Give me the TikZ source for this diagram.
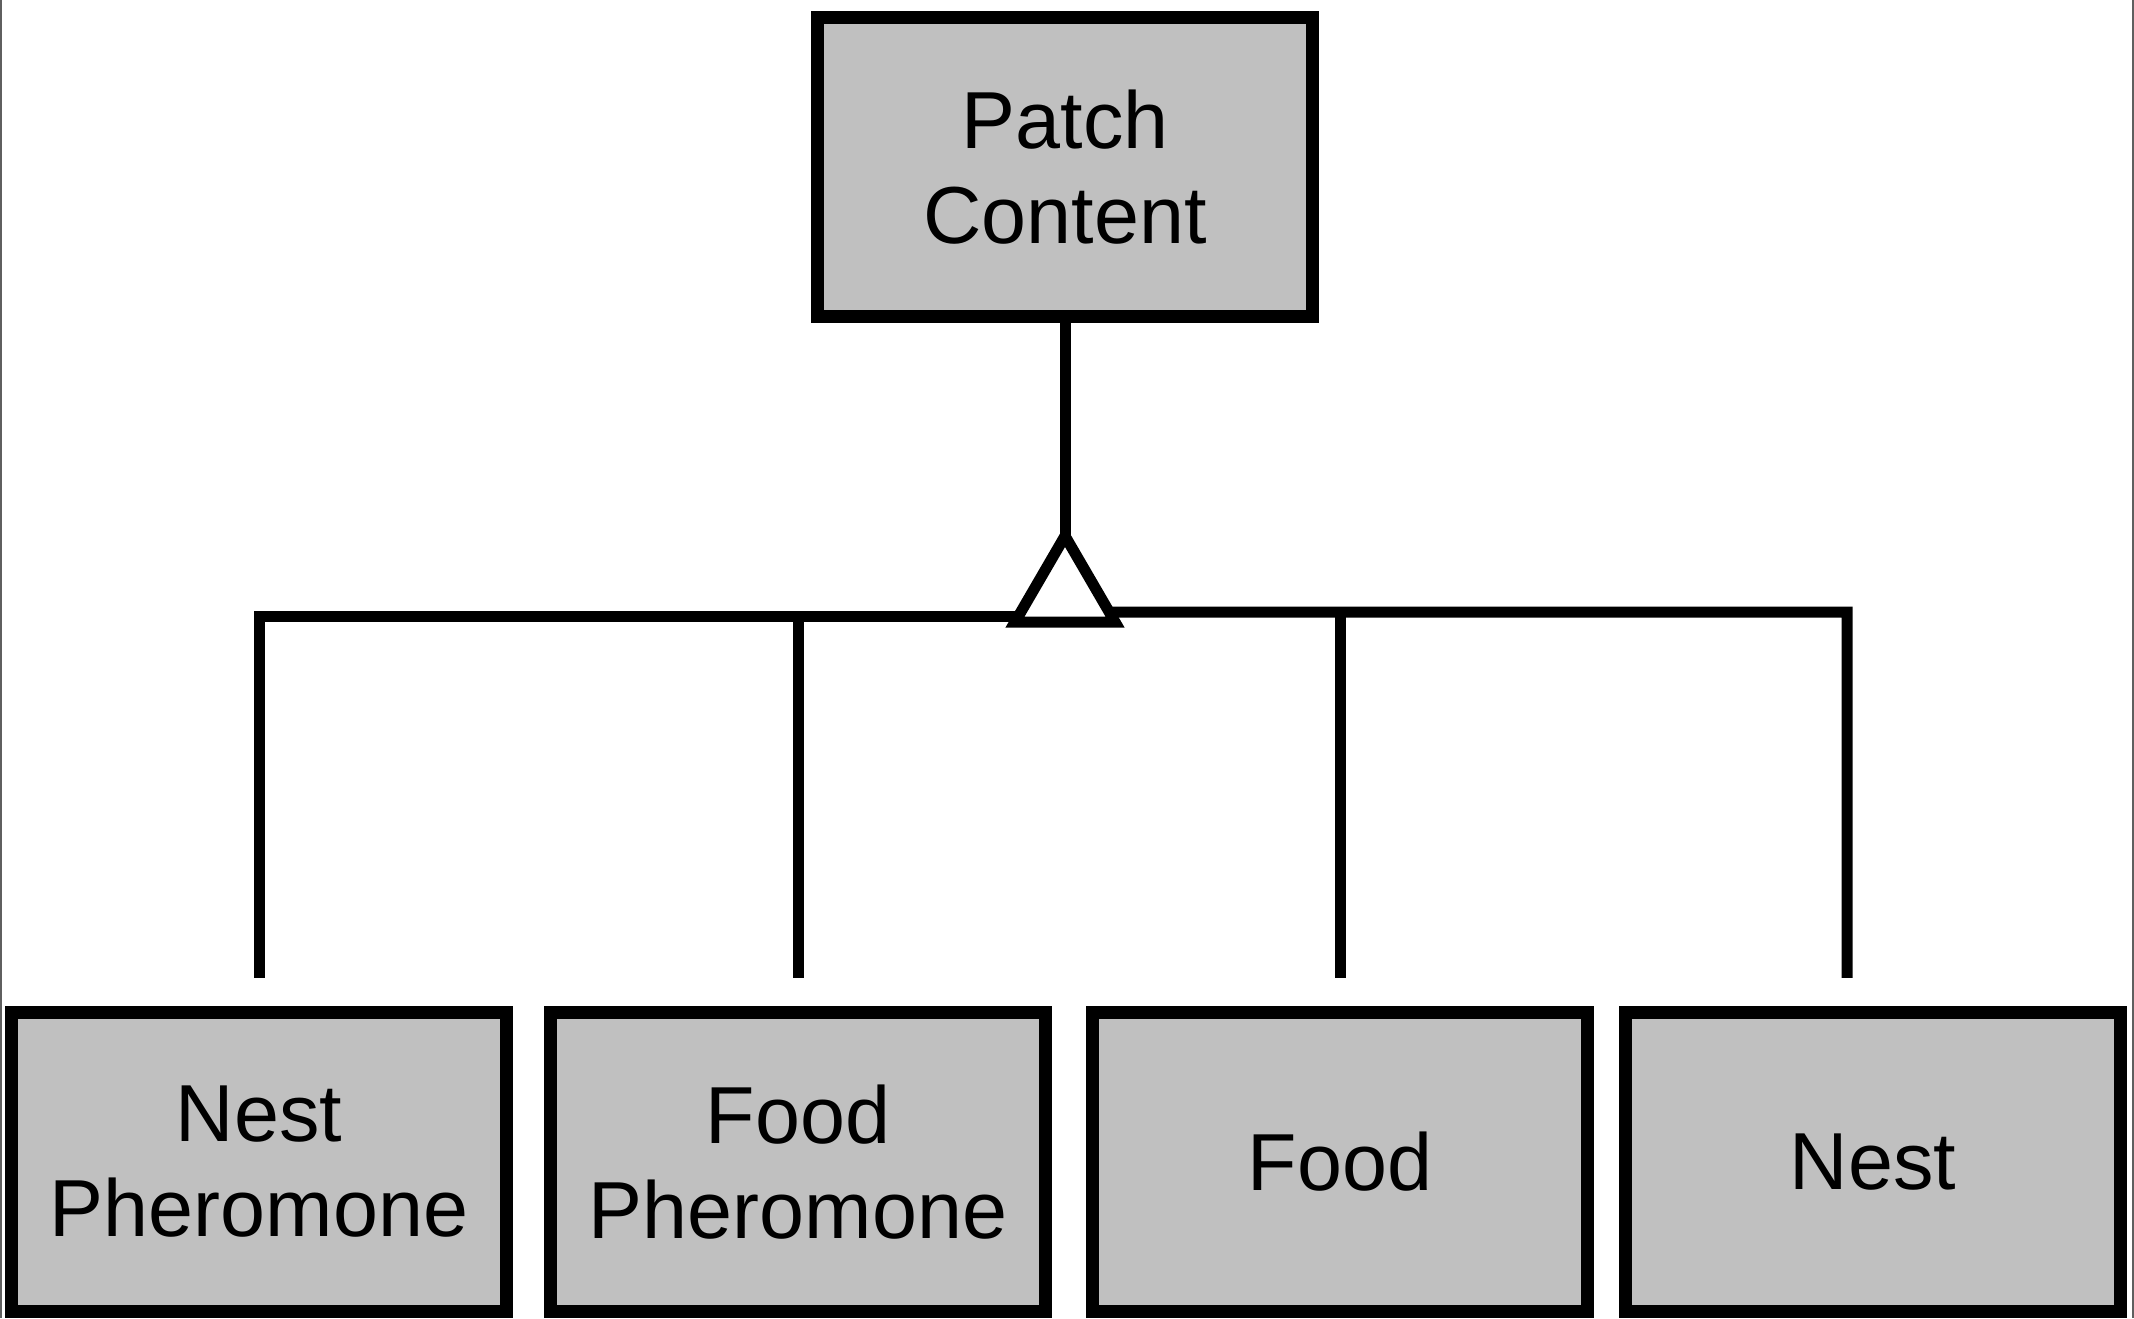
\documentclass[tikz,border=0pt]{standalone}
\usepackage{fontspec}
\setmainfont{Liberation Sans}
\usepackage{tikz}
\usepackage{xcolor}

\definecolor{boxgray}{RGB}{192,192,192}
\definecolor{framegray}{RGB}{95,95,95}

\tikzset{
  classbox/.style={draw, line width=0.13cm, fill=boxgray, minimum width=4.95cm,
    minimum height=2.99cm, align=center, inner sep=0pt,
    font=\fontsize{23}{27}\selectfont},
  link/.style={line width=0.11cm, line join=miter}
}

\begin{document}
\begin{tikzpicture}[x=0.01cm,y=-0.01cm]
  \useasboundingbox (0,0) rectangle (2134,1318);
  \draw[framegray, line width=0.02cm] (1,0)--(1,1318);
  \draw[framegray, line width=0.02cm] (2133,0)--(2133,1318);

  \node[classbox] (pc) at (1065,167) {Patch\\Content};
  \node[classbox] (nph) at (259,1162) {Nest\\Pheromone};
  \node[classbox] (fph) at (798,1162) {Food\\Pheromone};
  \node[classbox] (fd) at (1340,1162) {Food};
  \node[classbox] (ns) at (1873,1162) {Nest};

  \coordinate (apex) at (1065,536);
  \coordinate (hl) at (259,616);
  \coordinate (hr) at (1847,612);

  % generalization lines
  \draw[link] ([yshift=0.28cm]nph.north) -- (hl) -- (1040,616);
  \draw[link] (1090,612) -- (hr) -- ([xshift=-0.26cm,yshift=0.28cm]ns.north);
  \draw[link] (fph.north |- hl) -- ([yshift=0.28cm]fph.north);
  \draw[link] (fd.north |- hr) -- ([yshift=0.28cm]fd.north);
  \draw[link] (pc.south) -- (apex);
  \draw[link, fill=white] (apex) -- ++(-50,86) -- ++(100,0) -- cycle;
\end{tikzpicture}
\end{document}
